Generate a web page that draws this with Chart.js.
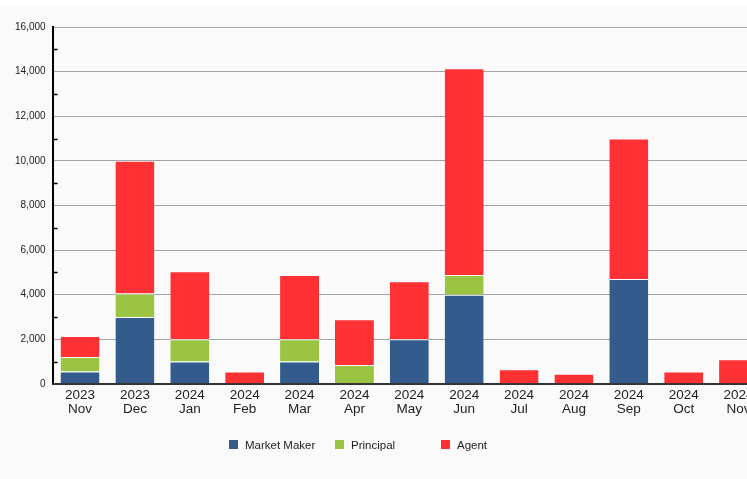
<!DOCTYPE html>
<html>
<head>
<meta charset="utf-8">
<script src="https://cdn.jsdelivr.net/npm/chart.js@4/dist/chart.umd.min.js"></script>
<style>
  body { margin: 0; background: #fff; font-family: "Liberation Sans", Arial, sans-serif; }
  #wrap { position: absolute; left: 0; top: 7px; width: 747px; height: 472px; background: #fafafa; overflow: hidden; }
  #box { position: absolute; left: 0; top: 0; width: 766px; height: 472px; }
  #legend { position: absolute; left: 0; top: 432px; width: 747px; height: 20px; }
  .item { position: absolute; top: 0; font-size: 11.5px; color: #222; white-space: nowrap; line-height: 12px; }
  .item span { position: absolute; left: 0; top: 1px; width: 9px; height: 9px; }
  .item b { font-weight: normal; position: absolute; left: 16px; top: 0; }
</style>
</head>
<body>
<div id="wrap">
  <div id="box"><canvas id="chart"></canvas></div>
  <div id="legend"></div>
</div>
<script>
  const categories = [
    ['2023', 'Nov'], ['2023', 'Dec'], ['2024', 'Jan'], ['2024', 'Feb'], ['2024', 'Mar'],
    ['2024', 'Apr'], ['2024', 'May'], ['2024', 'Jun'], ['2024', 'Jul'], ['2024', 'Aug'],
    ['2024', 'Sep'], ['2024', 'Oct'], ['2024', 'Nov']
  ];
  const marketMaker = [550, 3000, 1000, 0, 1000, 0, 2000, 4000, 0, 0, 4700, 0, 0];
  const principal = [650, 1050, 1000, 0, 1000, 850, 0, 880, 0, 0, 0, 0, 0];
  const agent = [950, 5950, 3050, 550, 2880, 2050, 2600, 9270, 650, 450, 6300, 550, 1100];

  const seriesNames = ['Market Maker', 'Principal', 'Agent'];
  const colors = ['#335c8d', '#9cc443', '#ff3134'];

  // short ticks on the inside of the y axis at the odd thousands
  const minorTicks = {
    id: 'minorTicks',
    afterDraw(chart) {
      const y = chart.scales.y;
      const left = chart.chartArea.left;
      const ctx = chart.ctx;
      ctx.save();
      ctx.strokeStyle = '#000';
      ctx.lineWidth = 1.5;
      y.ticks.forEach(t => {
        if (t.value % 2000 !== 0) {
          const py = Math.round(y.getPixelForValue(t.value)) + 0.5;
          ctx.beginPath();
          ctx.moveTo(left, py);
          ctx.lineTo(left + 5, py);
          ctx.stroke();
        }
      });
      ctx.restore();
    }
  };

  const datasets = [marketMaker, principal, agent].map((d, i) => ({
    label: seriesNames[i],
    data: d,
    backgroundColor: colors[i],
    borderColor: '#ffffff',
    borderWidth: { top: 1, left: 0, right: 0, bottom: 0 },
    borderSkipped: false,
    barPercentage: 0.71,
    categoryPercentage: 1
  }));

  new Chart(document.getElementById('chart'), {
    type: 'bar',
    data: { labels: categories, datasets: datasets },
    plugins: [minorTicks],
    options: {
      responsive: true,
      maintainAspectRatio: false,
      animation: false,
      layout: { padding: { top: 20, left: 8, right: 0, bottom: 58 } },
      plugins: { legend: { display: false }, tooltip: { enabled: false } },
      scales: {
        x: {
          stacked: true,
          grid: { display: false, drawTicks: false },
          border: { color: '#333', width: 2 },
          ticks: {
            padding: 4,
            color: '#222',
            maxRotation: 0,
            autoSkip: false,
            font: { family: 'Liberation Sans, Arial', size: 13.5, lineHeight: 1.08 }
          }
        },
        y: {
          stacked: true,
          min: 0,
          max: 16000,
          z: 1,
          grid: {
            drawTicks: false,
            color: ctx => (ctx.tick && ctx.tick.value % 2000 === 0) ? 'rgba(0,0,0,0.35)' : 'rgba(0,0,0,0)',
            lineWidth: 1
          },
          border: { color: '#000', width: 2 },
          ticks: {
            stepSize: 1000,
            padding: 7,
            color: '#222',
            font: { family: 'Liberation Sans, Arial', size: 10 },
            callback: v => v % 2000 === 0 ? v.toLocaleString('en-US') : ''
          }
        }
      }
    }
  });

  // legend with evenly spaced entries
  const legend = document.getElementById('legend');
  seriesNames.forEach((name, i) => {
    const el = document.createElement('div');
    el.className = 'item';
    el.style.left = (229 + i * 106) + 'px';
    el.innerHTML = '<span style="background:' + colors[i] + '"></span><b>' + name + '</b>';
    legend.appendChild(el);
  });
</script>
</body>
</html>
